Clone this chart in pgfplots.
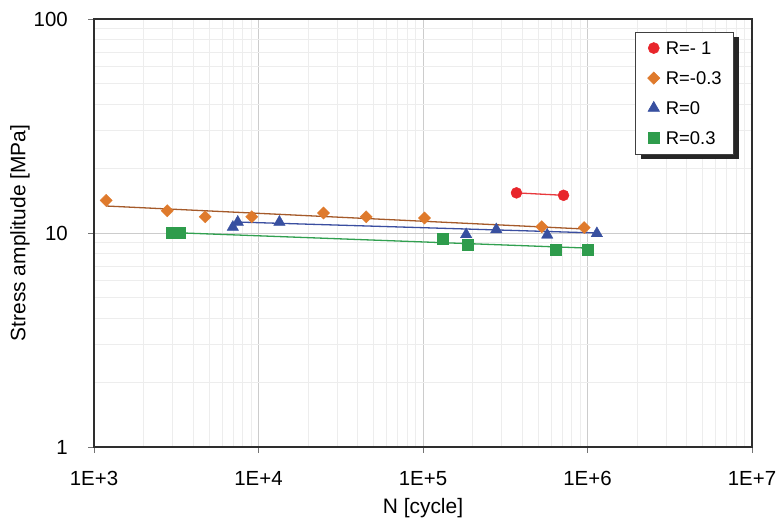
\documentclass[border=0pt]{standalone}
\usepackage{pgfplots}
\pgfplotsset{compat=1.18}
\usepackage{fontspec}
\setmainfont{Liberation Sans}
\usetikzlibrary{shadows}
\definecolor{cred}{HTML}{E8252B}
\definecolor{corange}{HTML}{DF7A2C}
\definecolor{cblue}{HTML}{3850A0}
\definecolor{cgreen}{HTML}{2E9C4C}
\definecolor{lorange}{HTML}{A55A2A}
\definecolor{lblue}{HTML}{3A4EA0}
\definecolor{lgreen}{HTML}{31A050}
\definecolor{lred}{HTML}{E8383C}
\begin{document}
\begin{tikzpicture}
\begin{axis}[name=ax,
  xmode=log, ymode=log, scale only axis, width=658bp, height=428bp,
  xmin=1e3, xmax=1e7, ymin=1, ymax=100,
  xtick={1e3,1e4,1e5,1e6,1e7}, xticklabels={1E+3,1E+4,1E+5,1E+6,1E+7},
  ytick={1,10,100}, yticklabels={1,10,100},
  grid=both,
  major grid style={draw=black!20, line width=0.9bp},
  minor grid style={draw=black!7, line width=0.8bp},
  axis line style={line width=1.8bp, black!82},
  tick align=outside, xtick pos=bottom, ytick pos=left,
  major tick length=6bp, minor tick length=0pt,
  tick style={black!55, line width=0.8bp},
  xticklabel style={font=\fontsize{20.5}{24}\selectfont, anchor=base, inner sep=0pt, yshift=-33bp},
  yticklabel style={font=\fontsize{20.5}{24}\selectfont, anchor=east, inner sep=0pt, xshift=-20bp},
  xlabel={N [cycle]}, ylabel={Stress amplitude [MPa]},
  xlabel style={font=\fontsize{21}{25}\selectfont, at={(axis description cs:0.5,-0.1425)}, anchor=center},
  ylabel style={font=\fontsize{21}{25}\selectfont, at={(axis description cs:-0.1125,0.5)}, anchor=center},
  legend style={at={(0.9726,0.9696)}, anchor=north east, draw=black!75, line width=0.6bp, fill=white,
    font=\fontsize{18.5}{22}\selectfont, inner xsep=12bp, inner ysep=9bp, row sep=16.5bp, column sep=6bp,
    nodes={inner sep=0pt, text height=13.5bp, text depth=0pt},
    drop shadow={shadow xshift=5bp, shadow yshift=-5bp, fill=black!85, opacity=1}},
  legend cell align=left,
  legend image code/.code={\draw[#1] plot coordinates {(0bp,0bp)};},
]
\addplot[lorange, line width=1.3bp, forget plot] coordinates {(1186,13.37) (955000,10.44)};
\addplot[lblue, line width=1.3bp, forget plot] coordinates {(7480,11.25) (1140000,10.0)};
\addplot[lgreen, line width=1.3bp, forget plot] coordinates {(2946,10.05) (1004000,8.5)};
\addplot[lred, line width=1.3bp, forget plot] coordinates {(370000,15.4) (715000,15.0)};

\addplot[only marks, mark=*, mark size=5.5bp, mark options={fill=cred, draw=cred}] coordinates {(370000,15.4) (715000,15.0)};
\addlegendentry{R=- 1}
\addplot[only marks, mark=square*, mark size=4.3bp, mark options={rotate=45, fill=corange, draw=corange}] coordinates {
(1186,14.2) (2787,12.7) (4743,11.9) (9102,11.9) (24850,12.4) (45150,11.9) (102100,11.75) (527000,10.7) (955000,10.6)};
\addlegendentry{R=-0.3}
\addplot[only marks, mark=triangle*, mark size=6.6bp, mark options={fill=cblue, draw=cblue}] coordinates {
(6980,10.65) (7480,11.25) (13400,11.25) (183000,9.84) (279000,10.38) (569000,9.79) (1140000,9.95)};
\addlegendentry{R=0}
\addplot[only marks, mark=square*, mark size=5.4bp, mark options={fill=cgreen, draw=cgreen}] coordinates {
(2946,10.0) (3311,10.0) (131900,9.37) (187000,8.79) (639000,8.39) (1004000,8.39)};
\addlegendentry{R=0.3}
\end{axis}
\path ([shift={(-94bp,-77bp)}]ax.south west) rectangle ([shift={(29bp,19bp)}]ax.north east);
\end{tikzpicture}
\end{document}
